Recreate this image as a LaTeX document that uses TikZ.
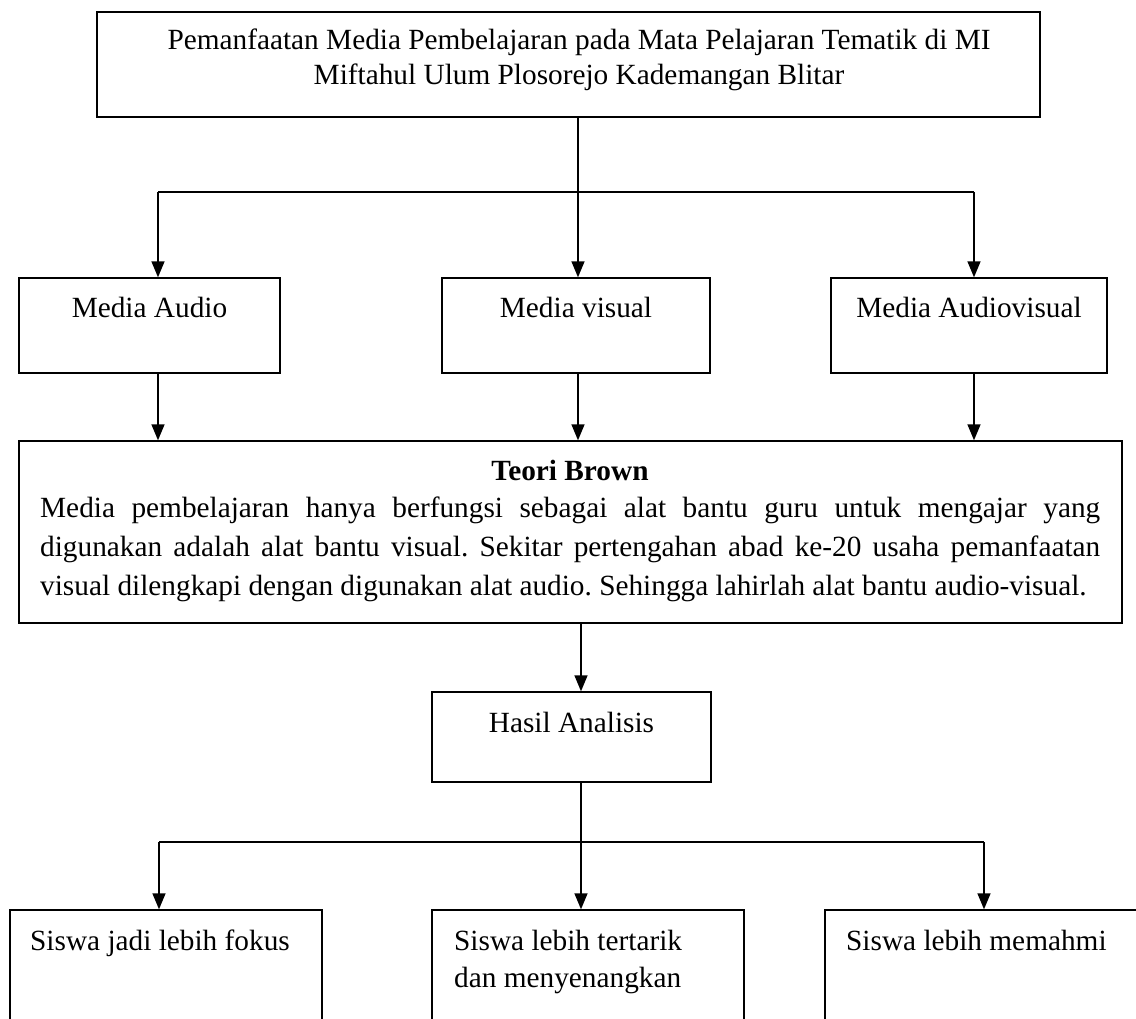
\documentclass[tikz,border=0pt]{standalone}
\usepackage{fontspec}
\setmainfont{Liberation Serif}
\usetikzlibrary{arrows.meta}
\frenchspacing
\tikzset{
  box/.style={draw, line width=1.4pt, rectangle, inner sep=0pt},
  txt/.style={inner sep=0pt, font=\fontsize{29.3}{38}\selectfont},
  conn/.style={line width=1.5pt},
  arr/.style={line width=1.5pt, -{Triangle[length=16pt,width=13pt]}},
}
\begin{document}
\begin{tikzpicture}[x=1pt,y=-1pt]
\clip (0,0) rectangle (1136,1019);
\fill[white] (0,0) rectangle (1136,1019);
% boxes
\node[box, minimum width=943pt, minimum height=105pt] (top) at (568.5,64.5) {};
\node[box, minimum width=261pt, minimum height=95pt] (ma) at (149.5,325.5) {};
\node[box, minimum width=268pt, minimum height=95pt] (mv) at (576,325.5) {};
\node[box, minimum width=276pt, minimum height=95pt] (mav) at (969,325.5) {};
\node[box, minimum width=1103pt, minimum height=182pt] (tb) at (570.5,532) {};
\node[box, minimum width=279pt, minimum height=90pt] (ha) at (571.5,737) {};
\node[box, minimum width=312pt, minimum height=150pt] (s1) at (166,985) {};
\node[box, minimum width=312pt, minimum height=150pt] (s2) at (588,985) {};
\node[box, minimum width=335pt, minimum height=150pt] (s3) at (992.5,985) {};
% texts
\node[txt, anchor=base] (t1) at (579,50) {Pemanfaatan Media Pembelajaran pada Mata Pelajaran Tematik di MI};
\node[txt, anchor=base] (t2) at (579,85) {Miftahul Ulum Plosorejo Kademangan Blitar};
\node[txt, anchor=base] (tma) at (149.5,318) {Media Audio};
\node[txt, anchor=base] (tmv) at (576,318) {Media visual};
\node[txt, anchor=base] (tmav) at (969,318) {Media Audiovisual};
\node[txt, anchor=base, font=\fontsize{29.3}{38}\selectfont\bfseries] (ttb) at (570,480) {Teori Brown};
\node[txt, anchor=base west] (l1) at (40,517) {\makebox[1060pt][s]{Media pembelajaran hanya berfungsi sebagai alat bantu guru untuk mengajar yang}};
\node[txt, anchor=base west] (l2) at (40,556) {\makebox[1060pt][s]{digunakan adalah alat bantu visual. Sekitar pertengahan abad ke-20 usaha pemanfaatan}};
\node[txt, anchor=base west] (l3) at (40,595) {visual dilengkapi dengan digunakan alat audio. Sehingga lahirlah alat bantu audio-visual.};
\node[txt, anchor=base] (tha) at (571.5,732) {Hasil Analisis};
\node[txt, anchor=base west] (ts1) at (30,950) {Siswa jadi lebih fokus};
\node[txt, anchor=base west] (ts2a) at (454,950) {Siswa lebih tertarik};
\node[txt, anchor=base west] (ts2b) at (454,987) {dan menyenangkan};
\node[txt, anchor=base west] (ts3) at (846,950) {Siswa lebih memahmi};
% connectors level 1
\coordinate (b1) at (578,192);
\coordinate (bl) at (158,192);
\coordinate (br) at (974,192);
\draw[conn] (top.south -| b1) -- (b1);
\draw[conn] (bl) -- (br);
\draw[arr] (bl) -- (ma.north -| bl);
\draw[arr] (b1) -- (mv.north -| b1);
\draw[arr] (br) -- (mav.north -| br);
% middle to Teori Brown
\draw[arr] (ma.south -| bl) -- (tb.north -| bl);
\draw[arr] (mv.south -| b1) -- (tb.north -| b1);
\draw[arr] (mav.south -| br) -- (tb.north -| br);
% Teori Brown to Hasil
\coordinate (c2) at (581,842);
\coordinate (cl) at (159,842);
\coordinate (cr) at (984,842);
\draw[arr] (tb.south -| c2) -- (ha.north -| c2);
\draw[conn] (ha.south -| c2) -- (c2);
\draw[conn] (cl) -- (cr);
\draw[arr] (cl) -- (s1.north -| cl);
\draw[arr] (c2) -- (s2.north -| c2);
\draw[arr] (cr) -- (s3.north -| cr);
\end{tikzpicture}
\end{document}
